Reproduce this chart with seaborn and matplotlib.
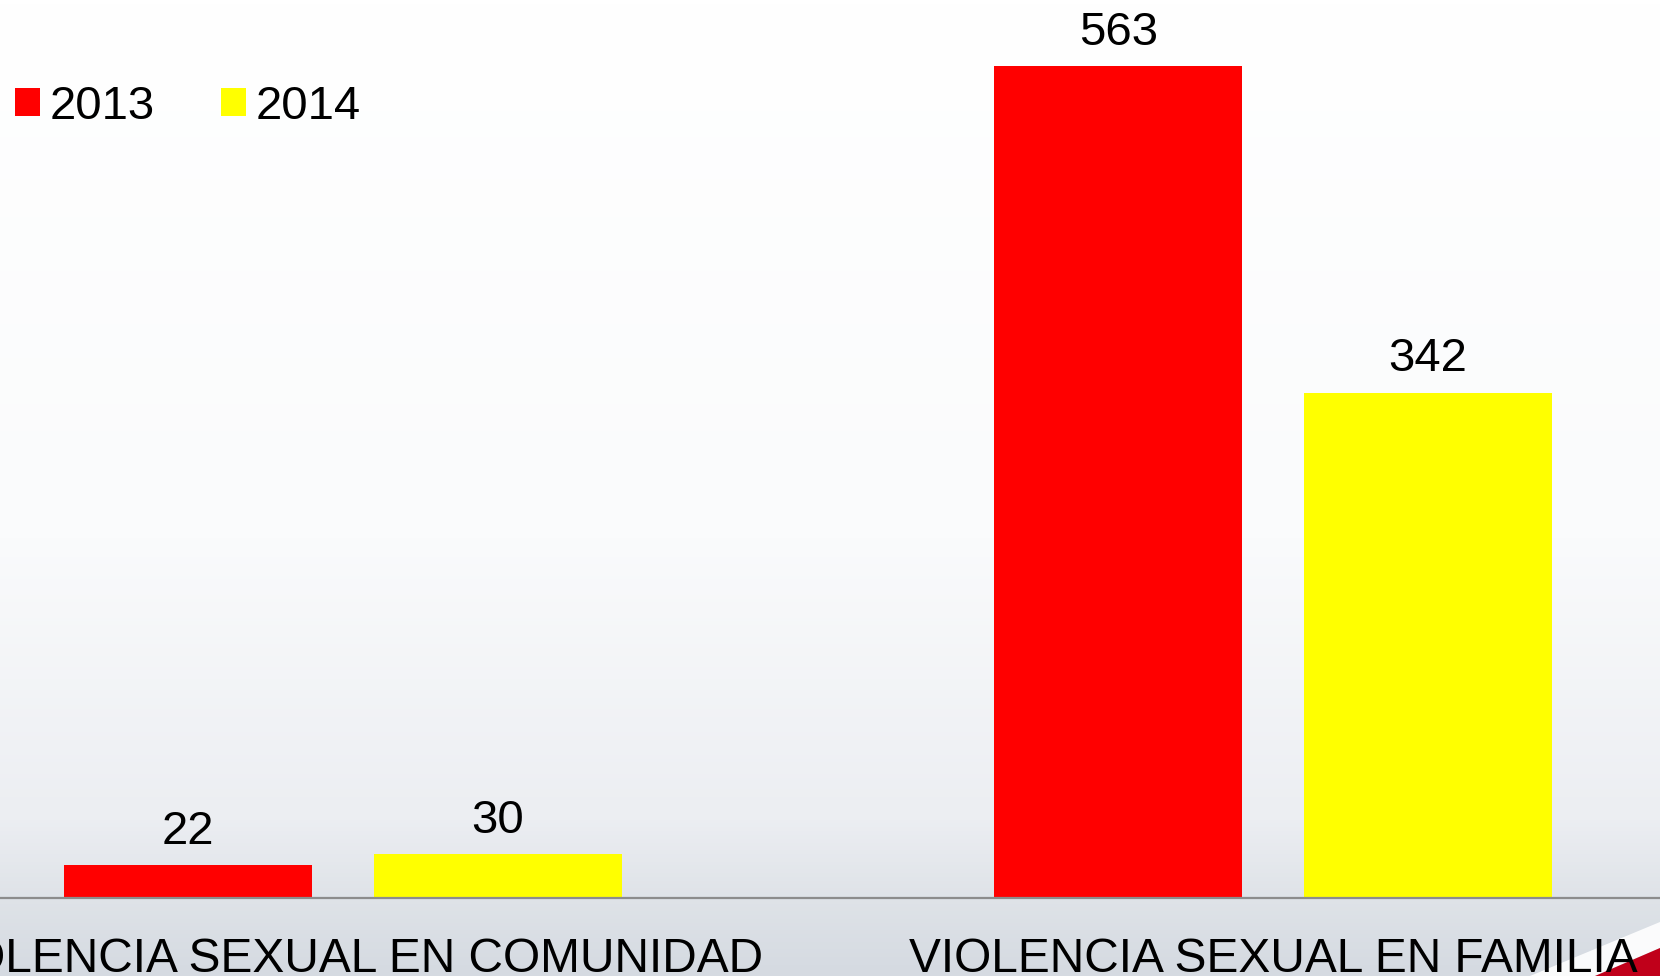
import numpy as np
import pandas as pd
import seaborn as sns
import matplotlib.pyplot as plt
from matplotlib.colors import LinearSegmentedColormap

# Chart data
categories = ['VIOLENCIA SEXUAL EN COMUNIDAD', 'VIOLENCIA SEXUAL EN FAMILIA']
years = ['2013', '2014']
values_2013 = [22, 563]
values_2014 = [30, 342]
colors = {'2013': '#ff0000', '2014': '#ffff00'}

# Long table for seaborn
df = pd.DataFrame({
    'categoria': categories * 2,
    'anio': [years[0]] * 2 + [years[1]] * 2,
    'casos': values_2013 + values_2014,
})

sns.set_style('white')
plt.rcParams['font.family'] = ['Liberation Sans', 'DejaVu Sans']

W, H = 1660, 976
fig = plt.figure(figsize=(W / 100, H / 100), dpi=100)

# Slide background: white to light grey-blue gradient
bg = fig.add_axes([0, 0, 1, 1], zorder=0)
grad = LinearSegmentedColormap.from_list('bg', [
    (0.0, '#ffffff'), (0.55, '#fafbfc'), (0.84, '#eceef2'),
    (0.92, '#dfe3e8'), (1.0, '#d5dae1')])
bg.imshow(np.linspace(0, 1, 256).reshape(-1, 1), cmap=grad, aspect='auto',
          extent=[0, W, H, 0])
# corner swoosh bottom right
bg.fill([1530, 1660, 1660, 1595], [976, 922, 948, 976], color='white', alpha=0.9, lw=0)
bg.fill([1595, 1660, 1660], [976, 948, 976], color='#c0001a', lw=0)
bg.set_xlim(0, W)
bg.set_ylim(H, 0)
bg.axis('off')

# Main chart
ax = fig.add_axes([0, 78 / H, 1, 898 / H], zorder=1)
ax.patch.set_alpha(0)
sns.barplot(data=df, x='categoria', y='casos', hue='anio', order=categories,
            hue_order=years, palette=colors, saturation=1, errorbar=None,
            width=0.666, gap=0.2, linewidth=0, ax=ax)

for c in ax.containers:
    ax.bar_label(c, fontsize=34, padding=8, color='black')

ax.set_xlim(-0.369, 1.416)
ax.set_ylim(0, 607.6)
ax.set_xlabel('')
ax.set_ylabel('')
ax.set_yticks([])
ax.tick_params(axis='x', length=0, pad=28, labelsize=34.5, colors='black')
for s in ['left', 'top', 'right']:
    ax.spines[s].set_visible(False)
ax.spines['bottom'].set_color('#8c8c8c')
ax.spines['bottom'].set_linewidth(1.6)

# Legend at top left
sns.move_legend(ax, loc='upper left', bbox_to_anchor=(15 / W, 1 - 85 / H),
                bbox_transform=fig.transFigure, ncol=2, title=None,
                frameon=False, fontsize=34, labelcolor='black',
                borderpad=0, borderaxespad=0,
                handlelength=0.53, handleheight=0.53, handletextpad=0.2,
                columnspacing=1.4)

plt.savefig('out.png', dpi=100)
